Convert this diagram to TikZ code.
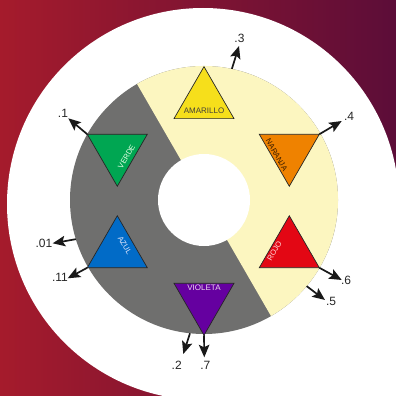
\documentclass[tikz,border=0pt]{standalone}
\usepackage{fontspec}
\setmainfont{Liberation Sans}
\usetikzlibrary{shapes.geometric,arrows.meta}
\definecolor{bgred}{HTML}{A51B2C}
\definecolor{bgpur}{HTML}{7B2662}
\definecolor{bgdark}{HTML}{5C0D38}
\definecolor{ringgray}{HTML}{6F6F6E}
\definecolor{ringyel}{HTML}{FCF6C0}
\definecolor{cama}{HTML}{F6DF1B}
\definecolor{cnar}{HTML}{EF8200}
\definecolor{croj}{HTML}{E30714}
\definecolor{cvio}{HTML}{6500A0}
\definecolor{cazu}{HTML}{016BC7}
\definecolor{cver}{HTML}{00A652}
\begin{document}
\begin{tikzpicture}[x=1pt,y=-1pt,
  tri/.style={regular polygon, regular polygon sides=3, minimum size=69.3pt, inner sep=0pt, outer sep=0pt, draw=black!85, line width=0.7pt},
  inv/.style={tri, shape border rotate=180},
  tlab/.style={font=\fontsize{7.6}{8}\selectfont, inner sep=0pt},
  hlab/.style={font=\fontsize{8}{8}\selectfont, inner sep=0pt},
  num/.style={font=\fontsize{12}{12}\selectfont, text=black!85, inner sep=0pt},
  arr/.style={draw=black!90, line width=1.7pt, -{Stealth[length=12.5pt,width=10.5pt,inset=2.5pt]}}
]
\useasboundingbox (0,0) rectangle (396,396);
\shade[left color=bgred, middle color=bgpur, right color=bgdark] (0,0) rectangle (396,396);
\fill[white] (203,204) circle[radius=196pt];
\fill[white] (203,204) rectangle (396,396);

% ring
\node[circle, fill=ringgray, minimum size=268pt, inner sep=0pt, outer sep=0pt] (ring) at (204,200) {};
\fill[ringyel] (ring.center) -- (ring.120) arc[start angle=120, end angle=-60, radius=134pt] -- cycle;
\node[circle, fill=white, minimum size=92pt, inner sep=0pt, outer sep=0pt] (hole) at (204,200) {};

% triangles
\node[tri, fill=cama] (A) at (204,101.3) {};
\node[inv, fill=cnar] (N) at (289.3,151.6) {};
\node[tri, fill=croj] (R) at (289.3,250.4) {};
\node[inv, fill=cvio] (V) at (204,300.6) {};
\node[tri, fill=cazu] (Z) at (117.3,250.4) {};
\node[inv, fill=cver] (G) at (117.3,151.6) {};

% triangle texts
\node[hlab, text=black!85!yellow] (tA) at (204,110.7) {AMARILLO};
\node[tlab, text=black!80!orange, rotate=-60] (tN) at (276.7,155) {NARANJA};
\node[tlab, text=white!85!red, rotate=60] (tR) at (274.5,251) {ROJO};
\node[hlab, text=white!85!violet] (tV) at (204,287.5) {VIOLETA};
\node[tlab, text=white!92!blue, rotate=-60] (tZ) at (124.8,245.5) {AZUL};
\node[tlab, text=white!90!green, rotate=60] (tG) at (126.5,156.7) {VERDE};

% number labels
\node[num] (n3) at (239.5,38.7) {.3};
\node[num] (n4) at (349,116.3) {.4};
\node[num] (n6) at (346,280.5) {.6};
\node[num] (n5) at (331,301.3) {.5};
\node[num] (n7) at (205.3,365) {.7};
\node[num] (n2) at (176.7,365) {.2};
\node[num] (n11) at (60,277.3) {.11};
\node[num] (n01) at (44,243.3) {.01};
\node[num] (n1) at (63,113.3) {.1};

% arrow tips
\coordinate (p3) at (239,46);
\coordinate (p4) at (341.7,121);
\coordinate (p6) at (341.7,280);
\coordinate (p5) at (325,300);
\coordinate (p7) at (204.3,357.3);
\coordinate (p2) at (183.3,354);
\coordinate (p11) at (67.7,278.3);
\coordinate (p01) at (52.7,243.3);
\coordinate (p1) at (68.3,118.3);

\draw[arr] (ring.78) -- (p3);
\draw[arr] (N.corner 2) -- (p4);
\draw[arr] (R.corner 3) -- (p6);
\draw[arr] (ring.-40.2) -- (p5);
\draw[arr] (V.corner 1) -- (p7);
\draw[arr] (ring.-96.7) -- (p2);
\draw[arr] (Z.corner 2) -- (p11);
\draw[arr] (ring.197.8) -- (p01);
\draw[arr] (G.corner 3) -- (p1);
\end{tikzpicture}
\end{document}
